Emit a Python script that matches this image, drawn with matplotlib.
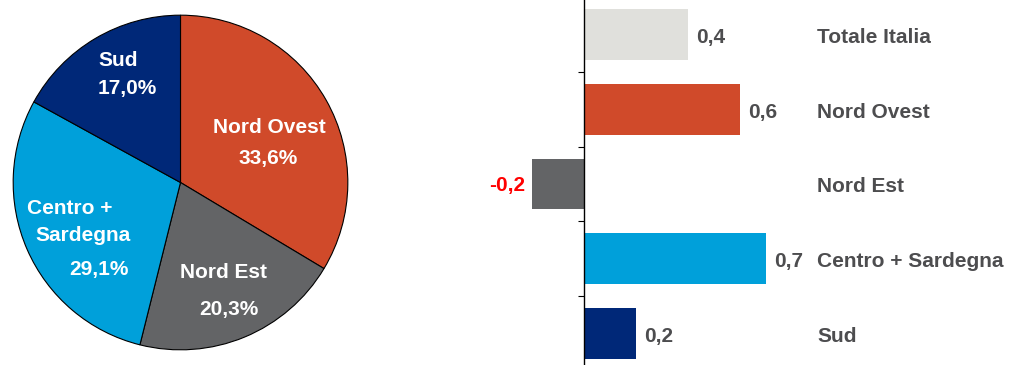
import matplotlib
matplotlib.use("Agg")
import matplotlib.pyplot as plt

plt.rcParams['font.family'] = ['Liberation Sans', 'DejaVu Sans']

# Pie: share by area
pie_labels = ['Nord Ovest', 'Nord Est', 'Centro +\nSardegna', 'Sud']
pie_shares = [33.6, 20.3, 29.1, 17.0]
pie_colors = ['#D04A2A', '#636466', '#00A0DA', '#002878']

# Bars: change by area
bar_labels = ['Totale Italia', 'Nord Ovest', 'Nord Est', 'Centro + Sardegna', 'Sud']
bar_values = [0.4, 0.6, -0.2, 0.7, 0.2]
bar_colors = ['#E0E0DC', '#D04A2A', '#636466', '#00A0DA', '#002878']

W, H = 1017, 365
fig = plt.figure(figsize=(W / 100, H / 100), dpi=100)

TXT = '#4D4D4F'
FS = 15

# ---- pie ----
cx, cy, r = 180.5, 182.5, 169
ax_pie = fig.add_axes([(cx - r) / W, (H - cy - r) / H, 2 * r / W, 2 * r / H])
ax_pie.pie(pie_shares, colors=pie_colors, startangle=90, counterclock=False,
           radius=1, wedgeprops=dict(edgecolor='black', linewidth=0.8))
ax_pie.set_xlim(-1.01, 1.01)
ax_pie.set_ylim(-1.01, 1.01)
ax_pie.set_aspect('equal')
ax_pie.axis('off')

# label anchors inside each wedge: (name xy, percent xy)
label_pos = [
    ((0.530, 0.328), (0.521, 0.145)),
    ((0.257, -0.536), (0.287, -0.760)),
    ((-0.620, -0.237), (-0.488, -0.518)),
    ((-0.370, 0.731), (-0.317, 0.559)),
]
for name, share, (p_name, p_pct) in zip(pie_labels, pie_shares, label_pos):
    if '\n' in name:
        first, second = name.split('\n')
        ax_pie.text(p_name[0] - 0.04, p_name[1] + 0.08, first, ha='center', va='center',
                    color='white', fontsize=FS, fontweight='bold')
        ax_pie.text(p_name[0] + 0.037, p_name[1] - 0.08, second, ha='center', va='center',
                    color='white', fontsize=FS, fontweight='bold')
    else:
        ax_pie.text(p_name[0], p_name[1], name, ha='center', va='center',
                    color='white', fontsize=FS, fontweight='bold')
    ax_pie.text(p_pct[0], p_pct[1], f"{share:.1f}%".replace('.', ','),
                ha='center', va='center', color='white', fontsize=FS, fontweight='bold')

# ---- bars ----
x0, x1 = 480, W
ax_bar = fig.add_axes([x0 / W, -5.85 / H, (x1 - x0) / W, 373.75 / H])
ypos = list(range(len(bar_values)))
ax_bar.barh(ypos, bar_values, height=0.68, color=bar_colors)
ax_bar.set_xlim(-0.4, 1.665)
ax_bar.set_ylim(len(bar_values) - 0.5, -0.5)

for s in ['top', 'right', 'bottom']:
    ax_bar.spines[s].set_visible(False)
ax_bar.spines['left'].set_position(('data', 0))
ax_bar.spines['left'].set_color('black')
ax_bar.spines['left'].set_linewidth(1.0)
ax_bar.set_xticks([])
ax_bar.set_yticks([i + 0.5 for i in range(len(bar_values) - 1)])
ax_bar.set_yticklabels([])
ax_bar.tick_params(axis='y', direction='out', length=4, width=0.8, color='black')

for y, v, name in zip(ypos, bar_values, bar_labels):
    lab = f"{v:.1f}".replace('.', ',')
    if v >= 0:
        ax_bar.annotate(lab, (v, y), xytext=(6, -2), textcoords='offset points',
                        ha='left', va='center', fontsize=FS, fontweight='bold', color=TXT)
    else:
        ax_bar.annotate(lab, (v, y), xytext=(-5, -1), textcoords='offset points',
                        ha='right', va='center', fontsize=FS, fontweight='bold', color='#FF0000')
    ax_bar.annotate(name, (0, y), xytext=(168, -2), textcoords='offset points',
                    ha='left', va='center', fontsize=FS, fontweight='bold', color=TXT,
                    annotation_clip=False)

fig.savefig('out.png', dpi=100)
